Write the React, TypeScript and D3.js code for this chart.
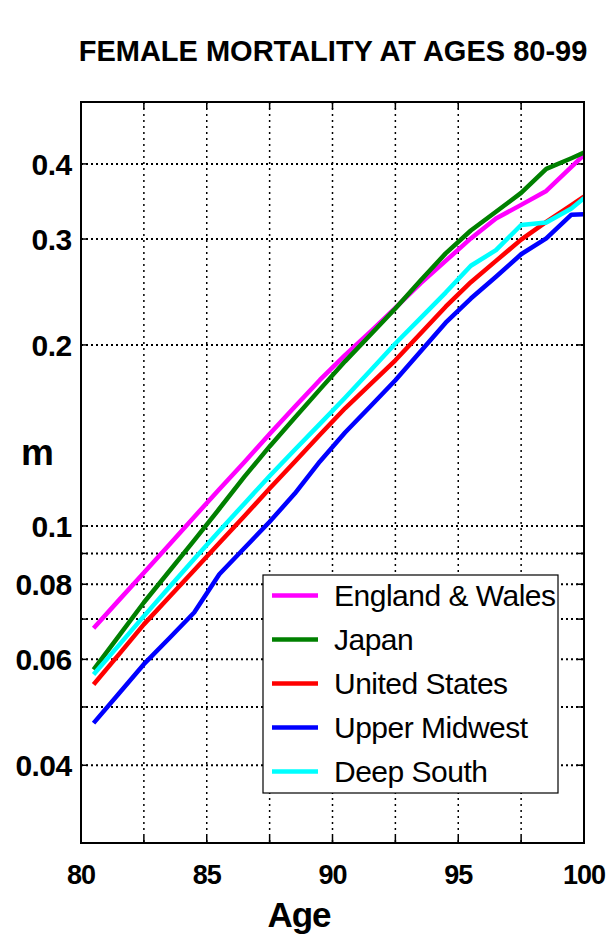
import React from "react";
import * as d3 from "d3";

const ages = [80.5, 81.5, 82.5, 83.5, 84.5, 85.5, 86.5, 87.5, 88.5, 89.5, 90.5, 91.5, 92.5, 93.5, 94.5, 95.5, 96.5, 97.5, 98.5, 99.5, 100];
const englandWales = [0.0676, 0.0752, 0.0836, 0.093, 0.1035, 0.1151, 0.1277, 0.1422, 0.1578, 0.1749, 0.1924, 0.2102, 0.2304, 0.2531, 0.2759, 0.3007, 0.3246, 0.3419, 0.3607, 0.3954, 0.414];
const japan = [0.0577, 0.0656, 0.0746, 0.084, 0.0946, 0.1068, 0.1208, 0.1356, 0.1513, 0.1687, 0.1878, 0.2078, 0.2299, 0.2559, 0.284, 0.31, 0.3331, 0.358, 0.3924, 0.4088, 0.4177];
const unitedStates = [0.0545, 0.0611, 0.0686, 0.0761, 0.0844, 0.0937, 0.1039, 0.1154, 0.1279, 0.1418, 0.1569, 0.172, 0.1886, 0.2089, 0.2315, 0.2543, 0.2759, 0.2993, 0.3204, 0.3416, 0.3529];
const upperMidwest = [0.047, 0.0526, 0.0589, 0.065, 0.0718, 0.0831, 0.0919, 0.1016, 0.1132, 0.128, 0.143, 0.158, 0.1747, 0.195, 0.2178, 0.2389, 0.2596, 0.283, 0.3007, 0.3293, 0.3299];
const deepSouth = [0.0566, 0.0633, 0.0708, 0.079, 0.0881, 0.0981, 0.109, 0.1211, 0.1339, 0.1478, 0.1634, 0.1812, 0.2011, 0.2216, 0.2444, 0.2708, 0.2875, 0.3166, 0.3196, 0.3373, 0.3508];

const seriesNames = ["England & Wales", "Japan", "United States", "Upper Midwest", "Deep South"];
const seriesValues = [englandWales, japan, unitedStates, upperMidwest, deepSouth];
const seriesColors = ["#ff00ff", "#008000", "#ff0000", "#0000ff", "#00ffff"];

const xTicks = [80, 82.5, 85, 87.5, 90, 92.5, 95, 97.5, 100];
const xTickLabels = [80, 85, 90, 95, 100];
const yGrid = [0.04, 0.05, 0.06, 0.07, 0.08, 0.09, 0.1, 0.2, 0.3, 0.4];
const yTickLabels = ["0.04", "0.06", "0.08", "0.1", "0.2", "0.3", "0.4"];

const titleText = "FEMALE MORTALITY AT AGES 80-99";
const xLabel = "Age";
const yLabel = "m";

const W = 616;
const H = 944;
const L = 81, R = 584, T = 102, B = 843;
const FONT = "'Liberation Sans', Arial, Helvetica, sans-serif";

export default function App() {
  const x = d3.scaleLinear().domain([80, 100]).range([L, R]);
  const y = d3.scaleLog().domain([0.0297, 0.507]).range([B, T]);
  const line = d3
    .line<number>()
    .x((_, i) => x(ages[i]))
    .y((d) => y(d));

  const legX = 263, legY = 575, legW = 295, legH = 218;

  return (
    <svg
      width={W}
      height={H}
      style={{ position: "absolute", left: 0, top: 0, background: "#fff" }}
      fontFamily={FONT}
    >
      <rect x={0} y={0} width={W} height={H} fill="#fff" />
      <defs>
        <clipPath id="plotClip">
          <rect x={L} y={T} width={R - L} height={B - T} />
        </clipPath>
      </defs>

      {/* Title */}
      <text x={333} y={60.5} textAnchor="middle" fontSize={29} fontWeight="bold">
        {titleText}
      </text>

      {/* grid */}
      {yGrid.map((v) => (
        <line
          key={"yg" + v}
          x1={L}
          x2={R}
          y1={y(v)}
          y2={y(v)}
          stroke="#000"
          strokeWidth={2}
          strokeDasharray="2,3"
        />
      ))}
      {xTicks.slice(1, -1).map((v) => (
        <line
          key={"xg" + v}
          x1={x(v)}
          x2={x(v)}
          y1={T}
          y2={B}
          stroke="#000"
          strokeWidth={1.5}
          strokeDasharray="2,4"
        />
      ))}

      {/* ticks */}
      {xTicks.map((v) => (
        <g key={"xt" + v}>
          <line x1={x(v)} x2={x(v)} y1={B} y2={B - 7} stroke="#000" strokeWidth={1.5} />
          <line x1={x(v)} x2={x(v)} y1={T} y2={T + 7} stroke="#000" strokeWidth={1.5} />
        </g>
      ))}
      {yGrid.map((v) => (
        <g key={"yt" + v}>
          <line x1={L} x2={L + 7} y1={y(v)} y2={y(v)} stroke="#000" strokeWidth={1.5} />
          <line x1={R} x2={R - 7} y1={y(v)} y2={y(v)} stroke="#000" strokeWidth={1.5} />
        </g>
      ))}

      {/* series */}
      <g clipPath="url(#plotClip)">
        {seriesValues.map((vals, i) => (
          <path
            key={seriesNames[i]}
            d={line(vals) || ""}
            fill="none"
            stroke={seriesColors[i]}
            strokeWidth={4.5}
            strokeLinejoin="round"
            strokeLinecap="butt"
          />
        ))}
      </g>

      {/* frame */}
      <rect x={L} y={T} width={R - L} height={B - T} fill="none" stroke="#000" strokeWidth={2} />

      {/* y tick labels */}
      {yTickLabels.map((t) => (
        <text
          key={"yl" + t}
          x={71.5}
          y={y(+t)}
          dy="0.36em"
          textAnchor="end"
          fontSize={30}
          fontWeight="bold"
          letterSpacing={-0.6}
        >
          {t}
        </text>
      ))}
      {/* x tick labels */}
      {xTickLabels.map((t) => (
        <text
          key={"xl" + t}
          x={x(t)}
          y={884}
          textAnchor="middle"
          fontSize={27}
          fontWeight="bold"
          letterSpacing={-1}
        >
          {t}
        </text>
      ))}

      {/* axis labels */}
      <text x={299} y={927} textAnchor="middle" fontSize={35} fontWeight="bold" letterSpacing={-1}>
        {xLabel}
      </text>
      <text x={37.5} y={465} textAnchor="middle" fontSize={37} fontWeight="bold">
        {yLabel}
      </text>

      {/* legend */}
      <rect x={legX} y={legY} width={legW} height={legH} fill="#fff" stroke="#000" strokeWidth={1.2} />
      {seriesNames.map((name, i) => {
        const cy = 595.5 + i * 44;
        return (
          <g key={"lg" + name}>
            <line x1={272} x2={318} y1={cy} y2={cy} stroke={seriesColors[i]} strokeWidth={4.5} />
            <text x={334} y={cy + 10.5} fontSize={30} letterSpacing={-0.5}>
              {name}
            </text>
          </g>
        );
      })}
    </svg>
  );
}
